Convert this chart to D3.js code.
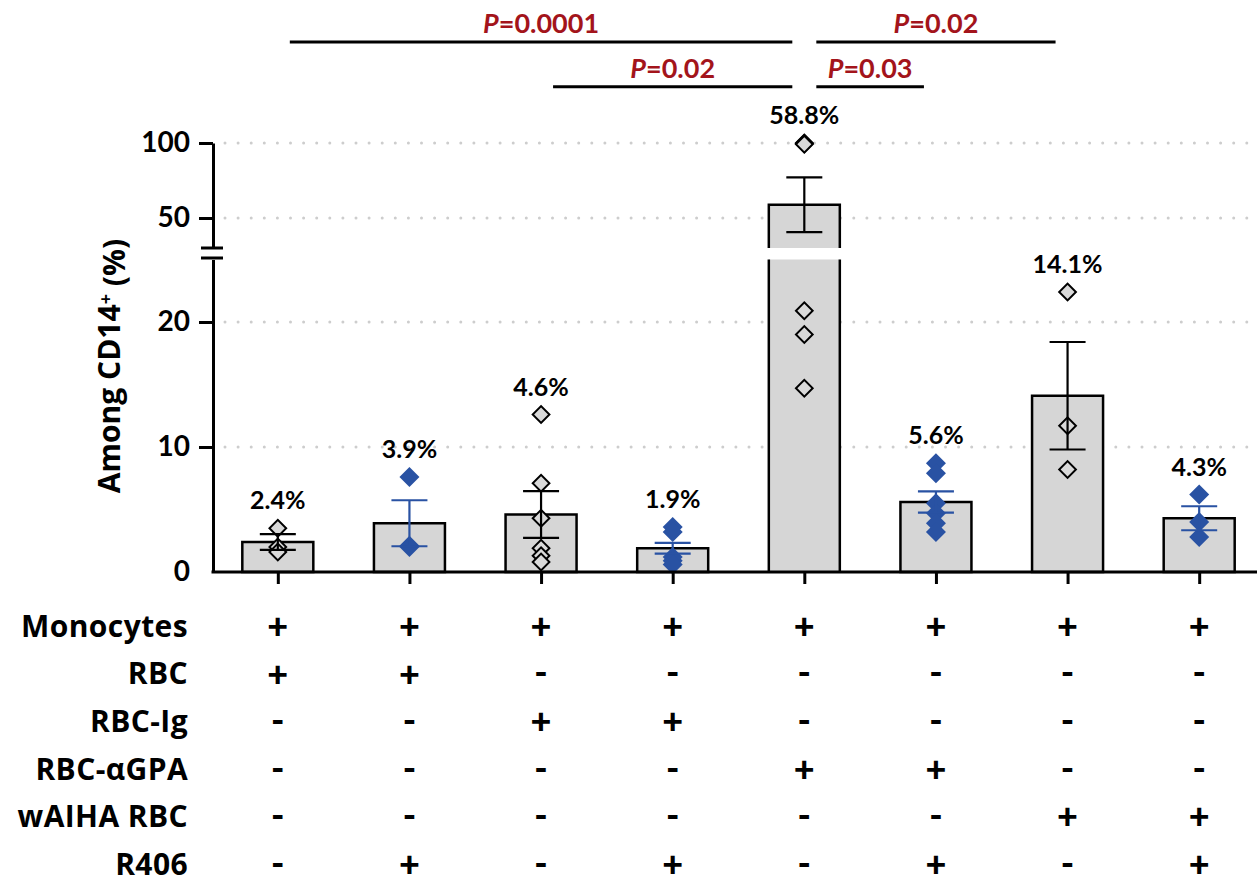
<!DOCTYPE html>
<html lang="en">
<head>
  <meta charset="UTF-8">
  <title>Among CD14+</title>
  <style>
    body { margin: 0; background: #fff; }
    text { font-family: Lato, "Open Sans", sans-serif; font-weight: 700; }
    .wide { font-family: "Open Sans", Lato, sans-serif; }
  </style>
</head>
<body>
  <script src="https://d3js.org/d3.v7.min.js"></script>
  <div id="chart"></div>
  <script>
    // groups (one column per condition)
    var groups = ["g1", "g2", "g3", "g4", "g5", "g6", "g7", "g8"]
    var means = [2.4, 3.9, 4.6, 1.9, 58.8, 5.6, 14.1, 4.3]
    var sems = [0.63, 1.84, 1.87, 0.43, 18.25, 0.85, 4.3, 0.96]
    var points = [
      [3.5, 2.0, 1.6],
      [7.6, 2.1, 2.0],
      [12.6, 7.1, 4.3, 1.9, 1.3, 0.8],
      [3.6, 3.2, 1.2, 0.9, 0.6],
      [100, 99.6, 99.2, 20.9, 19.0, 14.7],
      [8.7, 7.9, 5.5, 4.7, 3.9, 3.2],
      [22.4, 11.7, 8.2],
      [6.2, 4.0, 2.8]
    ]

    // condition table under the axis
    var rowLabels = ["Monocytes", "RBC", "RBC-Ig", "RBC-\u03b1GPA", "wAIHA RBC", "R406"]
    var rowSigns = [
      "++++++++",
      "++------",
      "--++----",
      "----++--",
      "------++",
      "-+-+-+-+"
    ]

    // significance brackets
    var compFrom = [0, 4, 2, 4]
    var compTo = [4, 6, 4, 5]
    var compP = ["0.0001", "0.02", "0.02", "0.03"]
    var compRow = [0, 0, 1, 1]

    // broken y axis
    var lowTicks = [0, 10, 20]
    var highTicks = [50, 100]
    var lowDomain = [0, 25]
    var highDomain = [30, 100]

    var width = 1257, height = 886
    var grey = "#d6d6d6", blue = "#2952a3", red = "#a3141b"

    var svg = d3.select("#chart").append("svg")
      .attr("width", width)
      .attr("height", height)

    var axisX = 213
    var yLow = d3.scaleLinear().domain(lowDomain).range([572, 259.5])
    var yHigh = d3.scaleLinear().domain(highDomain).range([248, 143])
    var y = function (v) { return v <= lowDomain[1] ? yLow(v) : yHigh(v) }

    var x = d3.scalePoint().domain(groups).range([212, 1265]).padding(0.5)
    var barW = 71

    // dotted gridlines
    var grid = lowTicks.filter(d => d > 0).map(d => yLow(d)).concat(highTicks.map(d => yHigh(d)))
    svg.selectAll(".grid")
      .data(grid).enter()
      .append("line")
      .attr("x1", 225).attr("x2", width)
      .attr("y1", d => d).attr("y2", d => d)
      .style("stroke", "#cdcdcd")
      .style("stroke-width", 3)
      .style("stroke-linecap", "round")
      .style("stroke-dasharray", "0 13.1")

    var isBlue = function (i) { return rowSigns[5][i] == "+" }

    // bars (split in two parts when above the break)
    groups.forEach(function (g, i) {
      var l = x(g) - barW / 2, r = x(g) + barW / 2
      var m = means[i]
      if (m <= lowDomain[1]) {
        svg.append("rect")
          .attr("x", l).attr("y", yLow(m))
          .attr("width", barW).attr("height", yLow(0) - yLow(m))
          .style("fill", grey).style("stroke", "#000").style("stroke-width", 2.5)
      } else {
        svg.append("rect")
          .attr("x", l).attr("y", yLow(lowDomain[1]))
          .attr("width", barW).attr("height", yLow(0) - yLow(lowDomain[1]))
          .style("fill", grey)
        svg.append("path")
          .attr("d", "M" + l + "," + yLow(lowDomain[1]) + "V" + yLow(0) + "M" + r + "," + yLow(0) + "V" + yLow(lowDomain[1]))
          .style("fill", "none").style("stroke", "#000").style("stroke-width", 2.5)
        svg.append("rect")
          .attr("x", l).attr("y", yHigh(m))
          .attr("width", barW).attr("height", yHigh(highDomain[0]) - yHigh(m))
          .style("fill", grey)
        svg.append("path")
          .attr("d", "M" + l + "," + yHigh(highDomain[0]) + "V" + yHigh(m) + "H" + r + "V" + yHigh(highDomain[0]))
          .style("fill", "none").style("stroke", "#000").style("stroke-width", 2.5)
      }
    })

    // individual points
    var sq = d3.symbol().type(d3.symbolSquare)
    groups.forEach(function (g, i) {
      var b = isBlue(i)
      svg.selectAll(".pt" + i)
        .data(points[i]).enter()
        .append("path")
        .attr("d", sq.size(b ? 200 : 140)())
        .attr("transform", d => "translate(" + x(g) + "," + y(d) + ") rotate(45)")
        .style("fill", b ? blue : "#d9d9d9")
        .style("stroke", b ? "none" : "#000")
        .style("stroke-width", 2)
    })

    // error bars (mean +/- sem)
    groups.forEach(function (g, i) {
      var c = isBlue(i) ? blue : "#000"
      var top = y(means[i] + sems[i]), bot = y(means[i] - sems[i])
      var cx = x(g)
      svg.append("path")
        .attr("d", "M" + cx + "," + top + "V" + bot +
          "M" + (cx - 18) + "," + top + "H" + (cx + 18) +
          "M" + (cx - 18) + "," + bot + "H" + (cx + 18))
        .style("fill", "none").style("stroke", c).style("stroke-width", 2.2)
    })

    // mean labels
    groups.forEach(function (g, i) {
      var topPx = Math.min(y(d3.max(points[i])), y(means[i] + sems[i]))
      svg.append("text")
        .attr("x", x(g)).attr("y", topPx - 28).attr("dy", "0.36em")
        .attr("text-anchor", "middle")
        .style("font-size", "25px")
        .text(means[i].toFixed(1) + "%")
    })

    // y axis, two segments
    var axLow = svg.append("g").attr("transform", "translate(" + axisX + ",0)")
      .call(d3.axisLeft(yLow).tickValues(lowTicks).tickSize(14).tickSizeOuter(0).tickPadding(9))
    var axHigh = svg.append("g").attr("transform", "translate(" + axisX + ",0)")
      .call(d3.axisLeft(yHigh).tickValues(highTicks).tickSize(14).tickSizeOuter(0).tickPadding(9))
    ;[axLow, axHigh].forEach(function (ax) {
      ax.selectAll("path, line").style("stroke", "#000").style("stroke-width", 3)
      ax.selectAll("text").style("font-size", "28px").style("fill", "#000")
    })
    // hide the 0 tick mark (axis meets the baseline there)
    axLow.selectAll(".tick").filter(d => d == 0).select("line").remove()

    // break marks
    svg.selectAll(".brk")
      .data([yLow(lowDomain[1]) - 1.5, yHigh(highDomain[0])]).enter()
      .append("line")
      .attr("x1", axisX - 12).attr("x2", axisX + 10)
      .attr("y1", d => d).attr("y2", d => d)
      .style("stroke", "#000").style("stroke-width", 3)

    // x axis
    var axB = svg.append("g").attr("transform", "translate(0," + yLow(0) + ")")
      .call(d3.axisBottom(x).tickSize(12).tickSizeOuter(0).tickFormat(""))
    axB.select(".domain").attr("d", "M" + (axisX - 1.5) + ",0H" + width)
    axB.selectAll("path, line").style("stroke", "#000").style("stroke-width", 3)

    var yl = svg.append("text")
      .attr("class", "wide")
      .attr("transform", "translate(120,366) rotate(-90)")
      .attr("text-anchor", "middle")
      .style("font-size", "30px")
    yl.append("tspan").text("Among CD14")
    yl.append("tspan").attr("dy", "-0.45em").style("font-size", "18px").text("+")
    yl.append("tspan").attr("dy", "0.45em").text(" (%)")

    // condition table
    var rowY = d3.scalePoint().domain(rowLabels).range([626, 864])
    svg.selectAll(".rowlab")
      .data(rowLabels).enter()
      .append("text")
      .attr("class", "wide")
      .attr("x", 188).attr("y", d => rowY(d)).attr("dy", "0.36em")
      .attr("text-anchor", "end")
      .style("font-size", "30px")
      .style("letter-spacing", "0.4px")
      .text(d => d)

    rowLabels.forEach(function (r, ri) {
      svg.selectAll(".sign" + ri)
        .data(rowSigns[ri].split("")).enter()
        .append("text")
        .attr("x", (d, i) => x(groups[i]))
        .attr("y", rowY(r))
        .attr("dy", d => d == "+" ? "0.36em" : "0.33em")
        .attr("text-anchor", "middle")
        .style("font-size", "36px")
        .style("font-weight", 900)
        .text(d => d)
    })

    // significance brackets
    compFrom.forEach(function (a, k) {
      var x1 = x(groups[a]) + 12, x2 = x(groups[compTo[k]]) - 12
      var ly = 42 + compRow[k] * 44.7
      svg.append("line")
        .attr("x1", x1).attr("x2", x2).attr("y1", ly).attr("y2", ly)
        .style("stroke", "#000").style("stroke-width", 3)
      var t = svg.append("text")
        .attr("x", (x1 + x2) / 2).attr("y", ly - 9)
        .attr("text-anchor", "middle")
        .style("font-size", "27px").style("fill", red)
      t.append("tspan").style("font-style", "italic").text("P")
      t.append("tspan").text("=" + compP[k])
    })
  </script>
</body>
</html>
